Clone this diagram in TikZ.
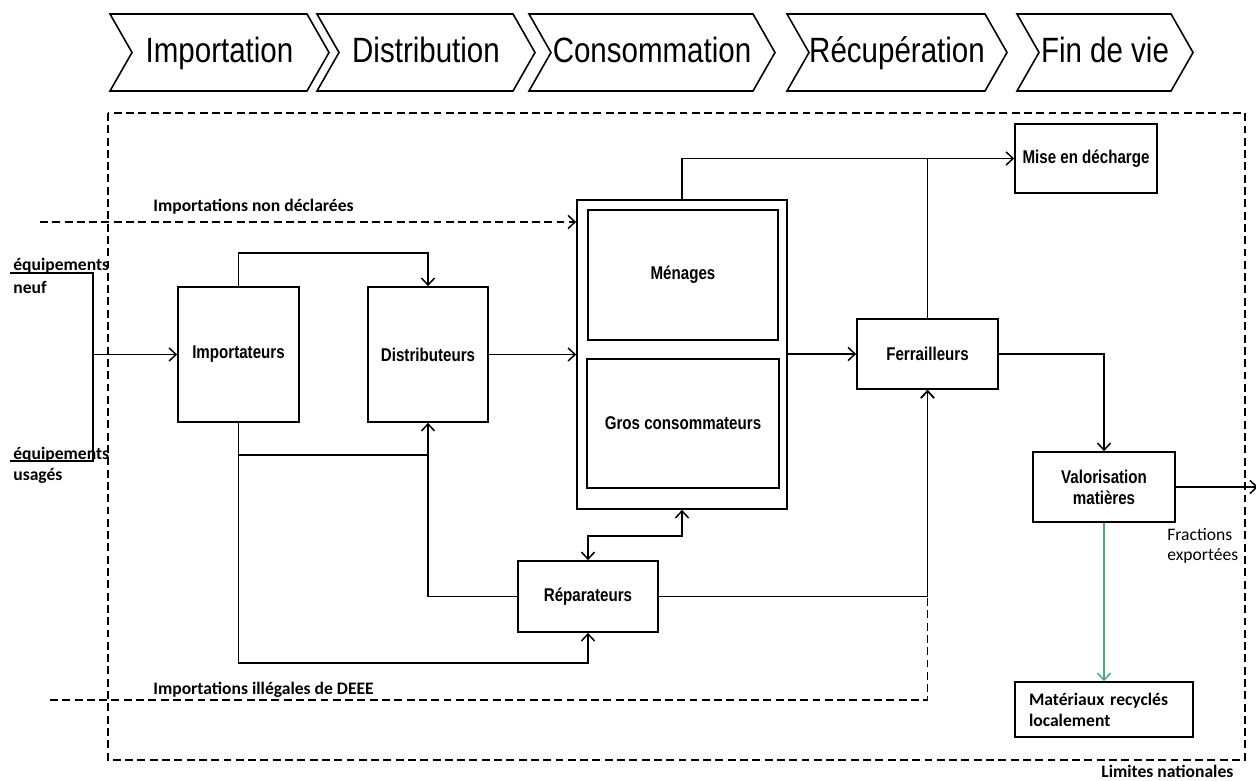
\documentclass[tikz,border=0pt]{standalone}
\usepackage{fontspec}
\setmainfont{Carlito}
\newfontfamily\etiquette[FakeStretch=0.82]{Liberation Sans}
\newfontfamily\etapefont[FakeStretch=0.84]{Liberation Sans}
\usepackage{tikz}
\usetikzlibrary{arrows.meta}
\definecolor{vert}{RGB}{70,175,115}

\tikzset{
	trait/.style={line width=0.85pt},
	fleche/.style={trait,-{Straight Barb[length=4pt,width=7.5pt]}},
	pointille/.style={trait,dash pattern=on 4.5pt off 2.5pt},
	boite/.style={draw,line width=1pt,font=\etiquette\bfseries\fontsize{10.5}{12}\selectfont},
	etiq/.style={font=\bfseries\fontsize{10}{12}\selectfont,inner sep=0pt}
}

\begin{document}
\begin{tikzpicture}[x=0.02cm,y=-0.02cm]
	\useasboundingbox (0,0) rectangle (1256,780);
	
	%Etapes de la filiere
	\foreach \g/\d/\nom in {110/307/Importation,317/513/Distribution,529/753/Consommation,787/985/Récupération,1017/1171/Fin de vie}{
		\draw[line width=0.9pt] (\g,14) -- (\d,14) -- (\d+22,52.5) -- (\d,91) -- (\g,91) -- (\g+22,52.5) -- cycle;
		\node[font=\etapefont\fontsize{20}{20}\selectfont,anchor=base,inner sep=0pt] (e\g) at ({(\g+\d)/2+11},63) {\nom};
	}
	
	%Limites nationales
	\draw[pointille] (108,113) rectangle (1245,760);
	\node[etiq,anchor=base west] (tlimites) at (1101,777) {Limites nationales};
	
	%Acteurs
	\node[boite,minimum width=2.42cm,minimum height=2.7cm] (imp) at (238.5,354.5) {Importateurs};
	\node[boite,minimum width=2.4cm,minimum height=2.7cm] (dist) at (428,354.5) {Distributeurs};
	\node[draw,line width=1pt,minimum width=4.2cm,minimum height=6.18cm] (conso) at (682,354.5) {};
	\node[boite,minimum width=3.8cm,minimum height=2.6cm] (men) at (683,275) {Ménages};
	\node[boite,minimum width=3.84cm,minimum height=2.58cm] (gros) at (683,423.5) {Gros consommateurs};
	\node[boite,minimum width=2.82cm,minimum height=1.4cm] (ferr) at (927.5,354) {Ferrailleurs};
	\node[boite,minimum width=2.84cm,minimum height=1.38cm] (dech) at (1086,158.5) {Mise en décharge};
	\node[boite,minimum width=2.84cm,minimum height=1.4cm,align=center] (valo) at (1104,487) {Valorisation\\matières};
	\node[boite,minimum width=2.8cm,minimum height=1.42cm] (rep) at (588,596.5) {Réparateurs};
	\node[draw,line width=1pt,minimum width=3.56cm,minimum height=1.1cm,etiq,align=left,text width=3cm] (mat) at (1104,709.5) {Matériaux recyclés\\localement};
	
	%Entrees
	\coordinate (neuf) at (10,273);
	\coordinate (usage) at (10,461);
	\draw[trait] (neuf) -- (93,273) -- (93,461) -- (usage);
	\node[etiq,anchor=base west] (tneuf) at (13,271) {équipements};
	\node[etiq,anchor=base west] (tneuf2) at (13,294) {neuf};
	\node[etiq,anchor=base west] (tusage) at (13,459) {équipements};
	\node[etiq,anchor=base west] (tusage2) at (13,480) {usagés};
	\draw[fleche] (93,354.5) -- (imp.west);
	
	%Flux
	\draw[fleche] (imp.north) -- ++(0,-33) -| (dist.north);
	\draw[fleche] (dist.east) -- (dist.east -| conso.west);
	\draw[fleche] (conso.north) |- (dech.west);
	\draw[trait] (ferr.north) -- (ferr.north |- dech.west);
	\draw[fleche] (conso.east |- ferr.west) -- (ferr.west);
	\draw[fleche] (ferr.east) -| (valo.north);
	\coordinate (sortie) at (1258,487);
	\draw[fleche] (valo.east) -- (sortie);
	\node[anchor=north west,align=left,inner sep=0pt,font=\fontsize{10}{11.5}\selectfont] (tfract) at (1167,528) {Fractions\\exportées};
	\draw[fleche,vert] (valo.south) -- (mat.north);
	
	\path (imp.south) ++(0,32) coordinate (b1);
	\draw[trait] (b1) -- (b1 -| dist.south);
	\draw[fleche] (imp.south) -- ++(0,240) -| (rep.south);
	\draw[fleche] (rep.west) -| (dist.south);
	\draw[fleche,{Straight Barb[length=4pt,width=7.5pt]}-{Straight Barb[length=4pt,width=7.5pt]}] (rep.north) -- ++(0,-24) -| (conso.south);
	
	%Importations hors circuit
	\coordinate (ndecl) at (40,222);
	\draw[pointille,-{Straight Barb[length=4pt,width=7.5pt]}] (ndecl) -- (ndecl -| conso.west);
	\node[etiq,anchor=base west] (tndecl) at (153,212) {Importations non déclarées};
	\coordinate (illeg) at (50,700);
	\draw[pointille,-{Straight Barb[length=4pt,width=7.5pt]}] (illeg) -| (ferr.south);
	\draw[fleche] (rep.east) -| (ferr.south);
	\node[etiq,anchor=base west] (tilleg) at (153,694) {Importations illégales de DEEE};
	
\end{tikzpicture}
\end{document}
